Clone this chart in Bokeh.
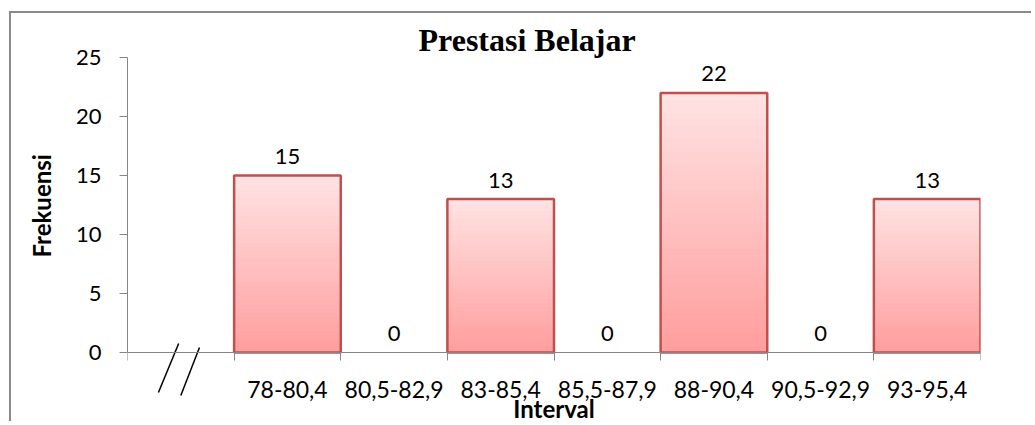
from bokeh.plotting import figure
from bokeh.models import FixedTicker, Range1d, ColumnDataSource, Title
from bokeh.core.properties import value
from bokeh.embed import file_html
from bokeh.resources import INLINE

# ---- data ----
intervals = ["78-80,4", "80,5-82,9", "83-85,4", "85,5-87,9", "88-90,4", "90,5-92,9", "93-95,4"]
frekuensi = [15, 0, 13, 0, 22, 0, 13]
y_ticks = [0, 5, 10, 15, 20, 25]
title_text = "Prestasi Belajar"
x_title = "Interval"
y_title = "Frekuensi"

# first slot on the axis is left empty (axis break)
n_slots = len(intervals) + 1
centers = [i + 1.5 for i in range(len(intervals))]
bounds = list(range(n_slots + 1))

FONT = "Lato"
GRAY = "#868686"

p = figure(width=1022, height=410, output_backend="svg", toolbar_location=None,
           x_range=Range1d(0, n_slots), y_range=Range1d(-6.02, 25),
           min_border_left=116, min_border_right=53, min_border_top=44, min_border_bottom=0)
p.styles = {"border-top": "2px solid #8a8a8a", "border-left": "2px solid #8a8a8a",
            "margin-left": "9px", "margin-top": "11px"}
p.outline_line_color = None
p.grid.visible = False
p.background_fill_color = "white"

p.title.text = title_text
p.title.text_font = "Liberation Serif"
p.title.text_font_size = "32px"
p.title.text_font_style = "bold"
p.title.text_color = "black"
p.title.align = "left"
p.title.offset = 291
p.title.standoff = 0

# ---- gradient-filled bars (sliced) ----
N = 40
top_rgb = (255, 226, 226)
bot_rgb = (255, 158, 158)
gx, gb, gt, gc = [], [], [], []
for c, v in zip(centers, frekuensi):
    if v <= 0:
        continue
    for k in range(N):
        t = k / (N - 1)
        col = tuple(int(round(bot_rgb[j] + (top_rgb[j] - bot_rgb[j]) * t)) for j in range(3))
        gx.append(c)
        gb.append(v * k / N)
        gt.append(v * (k + 1) / N)
        gc.append("#%02x%02x%02x" % col)
p.vbar(x=gx, bottom=gb, top=gt, width=1.0, fill_color=gc, line_color=gc, line_width=1)

src = ColumnDataSource(dict(x=centers, top=frekuensi,
                            alpha=[1 if v > 0 else 0 for v in frekuensi],
                            label=[str(v) for v in frekuensi]))
p.vbar(x="x", top="top", width=1.0, source=src, fill_color=None,
       line_color="#C0504D", line_width=2.5, line_alpha="alpha")

p.text(x="x", y="top", text="label", source=src, text_align="center",
       text_baseline="alphabetic", y_offset=-19, text_font=value(FONT),
       text_font_size="22px", text_color="black")

# ---- axes ----
xa = p.xaxis[0]
xa.fixed_location = 0
xa.ticker = FixedTicker(ticks=centers, minor_ticks=bounds)
xa.major_label_overrides = {c: lab for c, lab in zip(centers, intervals)}
xa.major_tick_out = 0
xa.major_tick_in = 0
xa.minor_tick_out = 8
xa.minor_tick_in = 0
xa.minor_tick_line_color = GRAY
xa.axis_line_color = GRAY
xa.major_label_standoff = 21
xa.major_label_text_font = FONT
xa.major_label_text_font_size = "23px"
xa.major_label_text_color = "black"
xa.axis_label = x_title
xa.axis_label_text_font = FONT
xa.axis_label_text_font_size = "24px"
xa.axis_label_text_font_style = "bold"
xa.axis_label_text_color = "black"
xa.axis_label_standoff = -8

ya = p.yaxis[0]
ya.bounds = (0, 25)
ya.ticker = FixedTicker(ticks=y_ticks)
ya.minor_tick_line_color = None
ya.major_tick_out = 8
ya.major_tick_in = 0
ya.major_tick_line_color = GRAY
ya.axis_line_color = GRAY
ya.major_label_standoff = 18
ya.major_label_text_font = FONT
ya.major_label_text_font_size = "22px"
ya.major_label_text_color = "black"

# y-axis title, placed level with the 0..25 part of the axis
p.add_layout(Title(text=y_title, align="left", offset=166, standoff=30,
                   vertical_align="top",
                   text_font=FONT, text_font_size="24px", text_font_style="bold",
                   text_color="black"), "left")

# ---- axis break marks "//" (decoration) ----
break_x0 = [0.29, 0.50]
break_y0 = [-3.4, -3.64]
break_x1 = [0.48, 0.675]
break_y1 = [0.76, 0.42]
p.segment(x0=break_x0, y0=break_y0, x1=break_x1, y1=break_y1,
          line_color="black", line_width=1.5)

open("out.html", "w").write(file_html(p, INLINE))
